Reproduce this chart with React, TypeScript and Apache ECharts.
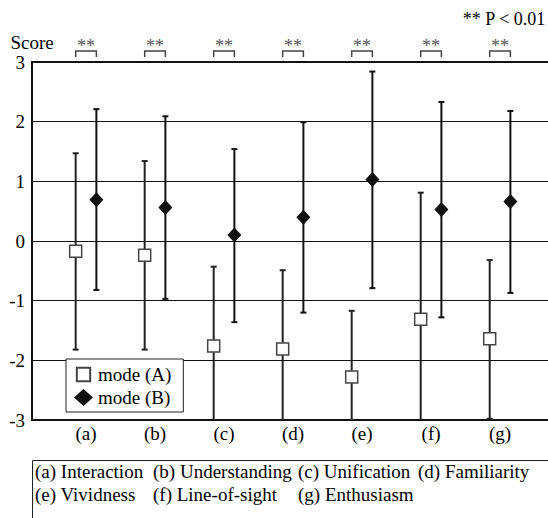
import React, { useEffect, useRef } from "react";
import * as echarts from "echarts";

const categories = ["(a)", "(b)", "(c)", "(d)", "(e)", "(f)", "(g)"];
const categoryNames = ["Interaction", "Understanding", "Unification", "Familiarity", "Vividness", "Line-of-sight", "Enthusiasm"];
const seriesNames = ["mode (A)", "mode (B)"];
const modeAMean = [-0.17, -0.24, -1.76, -1.81, -2.28, -1.31, -1.64];
const modeAUpper = [1.47, 1.34, -0.43, -0.49, -1.17, 0.81, -0.32];
const modeALower = [-1.82, -1.82, -3.09, -3.13, -3.39, -3.43, -2.98];
const modeBMean = [0.69, 0.56, 0.10, 0.40, 1.03, 0.53, 0.66];
const modeBUpper = [2.21, 2.09, 1.54, 1.99, 2.84, 2.33, 2.18];
const modeBLower = [-0.82, -0.97, -1.36, -1.20, -0.79, -1.28, -0.87];
const significance = ["**", "**", "**", "**", "**", "**", "**"];
const pNote = "** P < 0.01";
const yName = "Score";

const FONT = "Liberation Serif";
const INK = "#000";
const OFFSET = 0.15;

function errorRender(color: string) {
  return (params: any, api: any) => {
    const x = api.value(0);
    const lo = api.value(1);
    const hi = api.value(2);
    const pHi = api.coord([x, hi]);
    const pLo = api.coord([x, lo]);
    const cap = 3;
    const st = { stroke: color, lineWidth: 2 };
    return {
      type: "group",
      children: [
        { type: "line", shape: { x1: pHi[0], y1: pHi[1], x2: pLo[0], y2: pLo[1] }, style: st },
        { type: "line", shape: { x1: pHi[0] - cap, y1: pHi[1], x2: pHi[0] + cap, y2: pHi[1] }, style: st },
        { type: "line", shape: { x1: pLo[0] - cap, y1: pLo[1], x2: pLo[0] + cap, y2: pLo[1] }, style: st },
      ],
    };
  };
}

export default function App() {
  const ref = useRef<HTMLDivElement>(null);
  useEffect(() => {
    if (!ref.current) return;
    const chart = echarts.init(ref.current, undefined, { renderer: "svg" });
    const xs = categories.map((_, i) => i + 1);
    const option: any = {
      animation: false,
      backgroundColor: "#fff",
      textStyle: { fontFamily: FONT, color: INK },
      grid: { left: 32, right: 0, top: 62, bottom: 98, containLabel: false },
      xAxis: [
        {
          type: "value",
          min: 0.217,
          max: 7.695,
          axisLine: { show: true, onZero: false, lineStyle: { color: "#111", width: 2 } },
          axisTick: { show: false },
          splitLine: { show: false },
          axisLabel: {
            customValues: xs,
            formatter: (v: number) => categories[Math.round(v) - 1] || "",
            fontSize: 19,
            fontFamily: FONT,
            color: INK,
            margin: 4,
          },
        },
        {
          type: "value",
          position: "top",
          min: 0.217,
          max: 7.695,
          axisLine: { show: true, onZero: false, lineStyle: { color: "#111", width: 2 } },
          axisTick: { show: false },
          splitLine: { show: false },
          axisLabel: { show: false },
        },
      ],
      yAxis: {
        type: "value",
        min: -3,
        max: 3,
        interval: 1,
        name: yName,
        nameLocation: "end",
        nameGap: 10,
        nameTextStyle: { fontSize: 19, fontFamily: FONT, color: INK, align: "center" },
        axisLine: { show: true, onZero: false, lineStyle: { color: "#111", width: 2 } },
        axisTick: { show: false },
        splitLine: { show: true, lineStyle: { color: "#111", width: 1 } },
        axisLabel: { fontSize: 19, fontFamily: FONT, color: INK, margin: 7 },
      },
      legend: {
        orient: "vertical",
        left: 66,
        top: 359,
        padding: [6, 12, 5, 8],
        itemGap: 4,
        itemWidth: 19,
        itemHeight: 17,
        backgroundColor: "#fff",
        borderColor: "#222",
        borderWidth: 1,
        borderRadius: 0,
        textStyle: { fontSize: 19, fontFamily: FONT, color: INK, lineHeight: 19 },
        data: [
          { name: seriesNames[0], icon: "path://M0,0L0,0M14,14L14,14M1.5,1.5H12.5V12.5H1.5Z" },
          { name: seriesNames[1], icon: "diamond" },
        ],
      },
      graphic: [
        {
          type: "text",
          right: 2,
          top: 10,
          style: { text: pNote, fontSize: 18, fontFamily: FONT, fill: INK },
        },
        {
          type: "rect",
          shape: { x: 32.5, y: 460.5, width: 540, height: 80 },
          style: { fill: "none", stroke: "#222", lineWidth: 1 },
        },
        ...categoryNames.map((n, i) => {
          const colX = [35, 153, 298, 418];
          const col = i < 4 ? i : i - 4;
          const row = i < 4 ? 0 : 1;
          return {
            type: "text",
            x: colX[col],
            y: 471 + row * 23.5,
            style: {
              text: categories[i] + " " + n,
              fontSize: 19,
              fontFamily: FONT,
              fill: INK,
              verticalAlign: "middle",
            },
          };
        }),
      ],
      series: [
        {
          type: "custom",
          name: "errA",
          clip: true,
          z: 2,
          renderItem: errorRender("#222"),
          encode: { x: 0, y: [1, 2] },
          data: xs.map((x, i) => [x - OFFSET, modeALower[i], modeAUpper[i]]),
        },
        {
          type: "custom",
          name: "errB",
          clip: true,
          z: 2,
          renderItem: errorRender("#111"),
          encode: { x: 0, y: [1, 2] },
          data: xs.map((x, i) => [x + OFFSET, modeBLower[i], modeBUpper[i]]),
        },
        {
          type: "scatter",
          name: seriesNames[0],
          z: 5,
          symbol: "rect",
          symbolSize: 12,
          itemStyle: { color: "#fff", borderColor: "#444", borderWidth: 1.5, opacity: 1 },
          data: xs.map((x, i) => [x - OFFSET, modeAMean[i]]),
        },
        {
          type: "scatter",
          name: seriesNames[1],
          z: 5,
          symbol: "diamond",
          symbolSize: [14, 15],
          itemStyle: { color: "#111", opacity: 1 },
          data: xs.map((x, i) => [x + OFFSET, modeBMean[i]]),
        },
        {
          type: "custom",
          name: "sig",
          clip: false,
          z: 3,
          renderItem: (params: any, api: any) => {
            const x = api.value(0);
            const y = api.value(1);
            const pa = api.coord([x - OFFSET, y]);
            const pb = api.coord([x + OFFSET, y]);
            const top = pa[1] - 11;
            const bot = pa[1] - 5;
            return {
              type: "group",
              children: [
                {
                  type: "polyline",
                  shape: { points: [[pa[0], bot], [pa[0], top], [pb[0], top], [pb[0], bot]] },
                  style: { stroke: "#444", lineWidth: 1.5, fill: "none" },
                },
                {
                  type: "text",
                  style: {
                    text: significance[params.dataIndex],
                    x: (pa[0] + pb[0]) / 2,
                    y: pa[1] - 25,
                    align: "center",
                    verticalAlign: "top",
                    fontSize: 18,
                    fontFamily: FONT,
                    fill: "#555",
                  },
                },
              ],
            };
          },
          encode: { x: 0, y: 1 },
          data: xs.map((x) => [x, 3]),
        },
      ],
    };
    chart.setOption(option);
    return () => chart.dispose();
  }, []);
  return <div ref={ref} style={{ position: "absolute", left: 0, top: 0, width: 548, height: 518 }} />;
}
